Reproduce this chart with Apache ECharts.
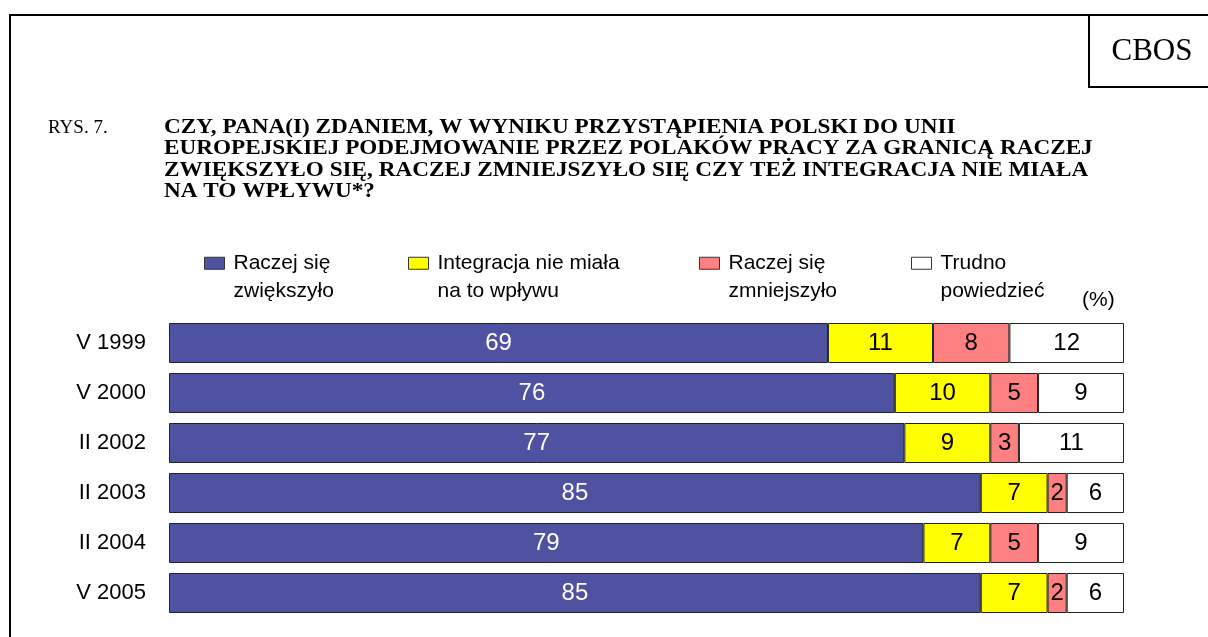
<!DOCTYPE html>
<html>
<head>
<meta charset="utf-8">
<script src="https://cdn.jsdelivr.net/npm/echarts@6/dist/echarts.min.js"></script>
<style>
html,body{margin:0;padding:0;background:#fff;}
#chart{width:1208px;height:637px;}
</style>
</head>
<body>
<div id="chart"></div>
<script>
const categories = ['V 1999', 'V 2000', 'II 2002', 'II 2003', 'II 2004', 'V 2005'];
const seriesNames = ['Raczej się\nzwiększyło', 'Integracja nie miała\nna to wpływu', 'Raczej się\nzmniejszyło', 'Trudno\npowiedzieć'];
const increased = [69, 76, 77, 85, 79, 85];
const noInfluence = [11, 10, 9, 7, 7, 7];
const decreased = [8, 5, 3, 2, 5, 2];
const hardToSay = [12, 9, 11, 6, 9, 6];
const titleLines = [
  'CZY, PANA(I) ZDANIEM, W WYNIKU PRZYSTĄPIENIA POLSKI DO UNII',
  'EUROPEJSKIEJ PODEJMOWANIE PRZEZ POLAKÓW PRACY ZA GRANICĄ RACZEJ',
  'ZWIĘKSZYŁO SIĘ, RACZEJ ZMNIEJSZYŁO SIĘ CZY TEŻ INTEGRACJA NIE MIAŁA',
  'NA TO WPŁYWU*?'
];

const colors = ['#4F51A1', '#FFFF00', '#FF8080', '#FFFFFF'];
const labelColors = ['#FFFFFF', '#000000', '#000000', '#000000'];
const values = [increased, noInfluence, decreased, hardToSay];
const legendLefts = [204, 408, 699, 911];

const chart = echarts.init(document.getElementById('chart'), null, {renderer: 'canvas'});

const graphics = [
  {type: 'rect', shape: {x: 10, y: 15, width: 1400, height: 800}, style: {fill: 'none', stroke: '#000', lineWidth: 2}, z: 10},
  {type: 'rect', shape: {x: 1089, y: 15, width: 200, height: 72}, style: {fill: 'none', stroke: '#000', lineWidth: 2}, z: 10},
  {type: 'text', x: 1152, y: 52, style: {text: 'CBOS', font: '31px "Liberation Serif"', fill: '#000', align: 'center', verticalAlign: 'middle'}, z: 10},
  {type: 'text', x: 48, y: 128, style: {text: 'RYS. 7.', font: '19px "Liberation Serif"', fill: '#000', align: 'left', verticalAlign: 'middle'}, z: 10},
  {type: 'text', x: 1082, y: 300, scaleX: 1.05, style: {text: '(%)', font: '20px "Liberation Sans"', fill: '#000', align: 'left', verticalAlign: 'middle'}, z: 10}
];
titleLines.forEach((t, i) => {
  graphics.push({type: 'text', x: 164, y: 128 + i * 21.3, scaleX: 1.16, style: {text: t, font: 'bold 20px "Liberation Serif"', fill: '#000', align: 'left', verticalAlign: 'middle'}, z: 10});
});

chart.setOption({
  animation: false,
  backgroundColor: '#fff',
  graphic: graphics,
  legend: seriesNames.map((n, i) => ({
    left: legendLefts[i],
    top: 222,
    padding: 0,
    itemWidth: 20,
    itemHeight: 12,
    icon: 'rect',
    selectedMode: false,
    formatter: (name) => ' \n' + name,
    textStyle: {fontFamily: 'Liberation Sans', fontSize: 21, color: '#000', lineHeight: 27.5, padding: [0, 0, 0, 4]},
    data: [{name: n, itemStyle: {color: colors[i], borderColor: '#333', borderWidth: 1}}]
  })),
  grid: {left: 169, right: 84, top: 318, bottom: 19},
  xAxis: {type: 'value', min: 0, max: 100, show: false},
  yAxis: {
    type: 'category',
    data: categories,
    inverse: true,
    axisLine: {show: false},
    axisTick: {show: false},
    axisLabel: {fontFamily: 'Liberation Sans', fontSize: 22, color: '#000', margin: 23}
  },
  series: seriesNames.map((n, i) => ({
    name: n,
    type: 'bar',
    stack: 'total',
    barWidth: 40,
    data: values[i],
    itemStyle: {color: colors[i], borderColor: '#222', borderWidth: 1},
    label: {show: true, position: 'inside', fontFamily: 'Liberation Sans', fontSize: 24, color: labelColors[i]}
  }))
});
</script>
</body>
</html>
